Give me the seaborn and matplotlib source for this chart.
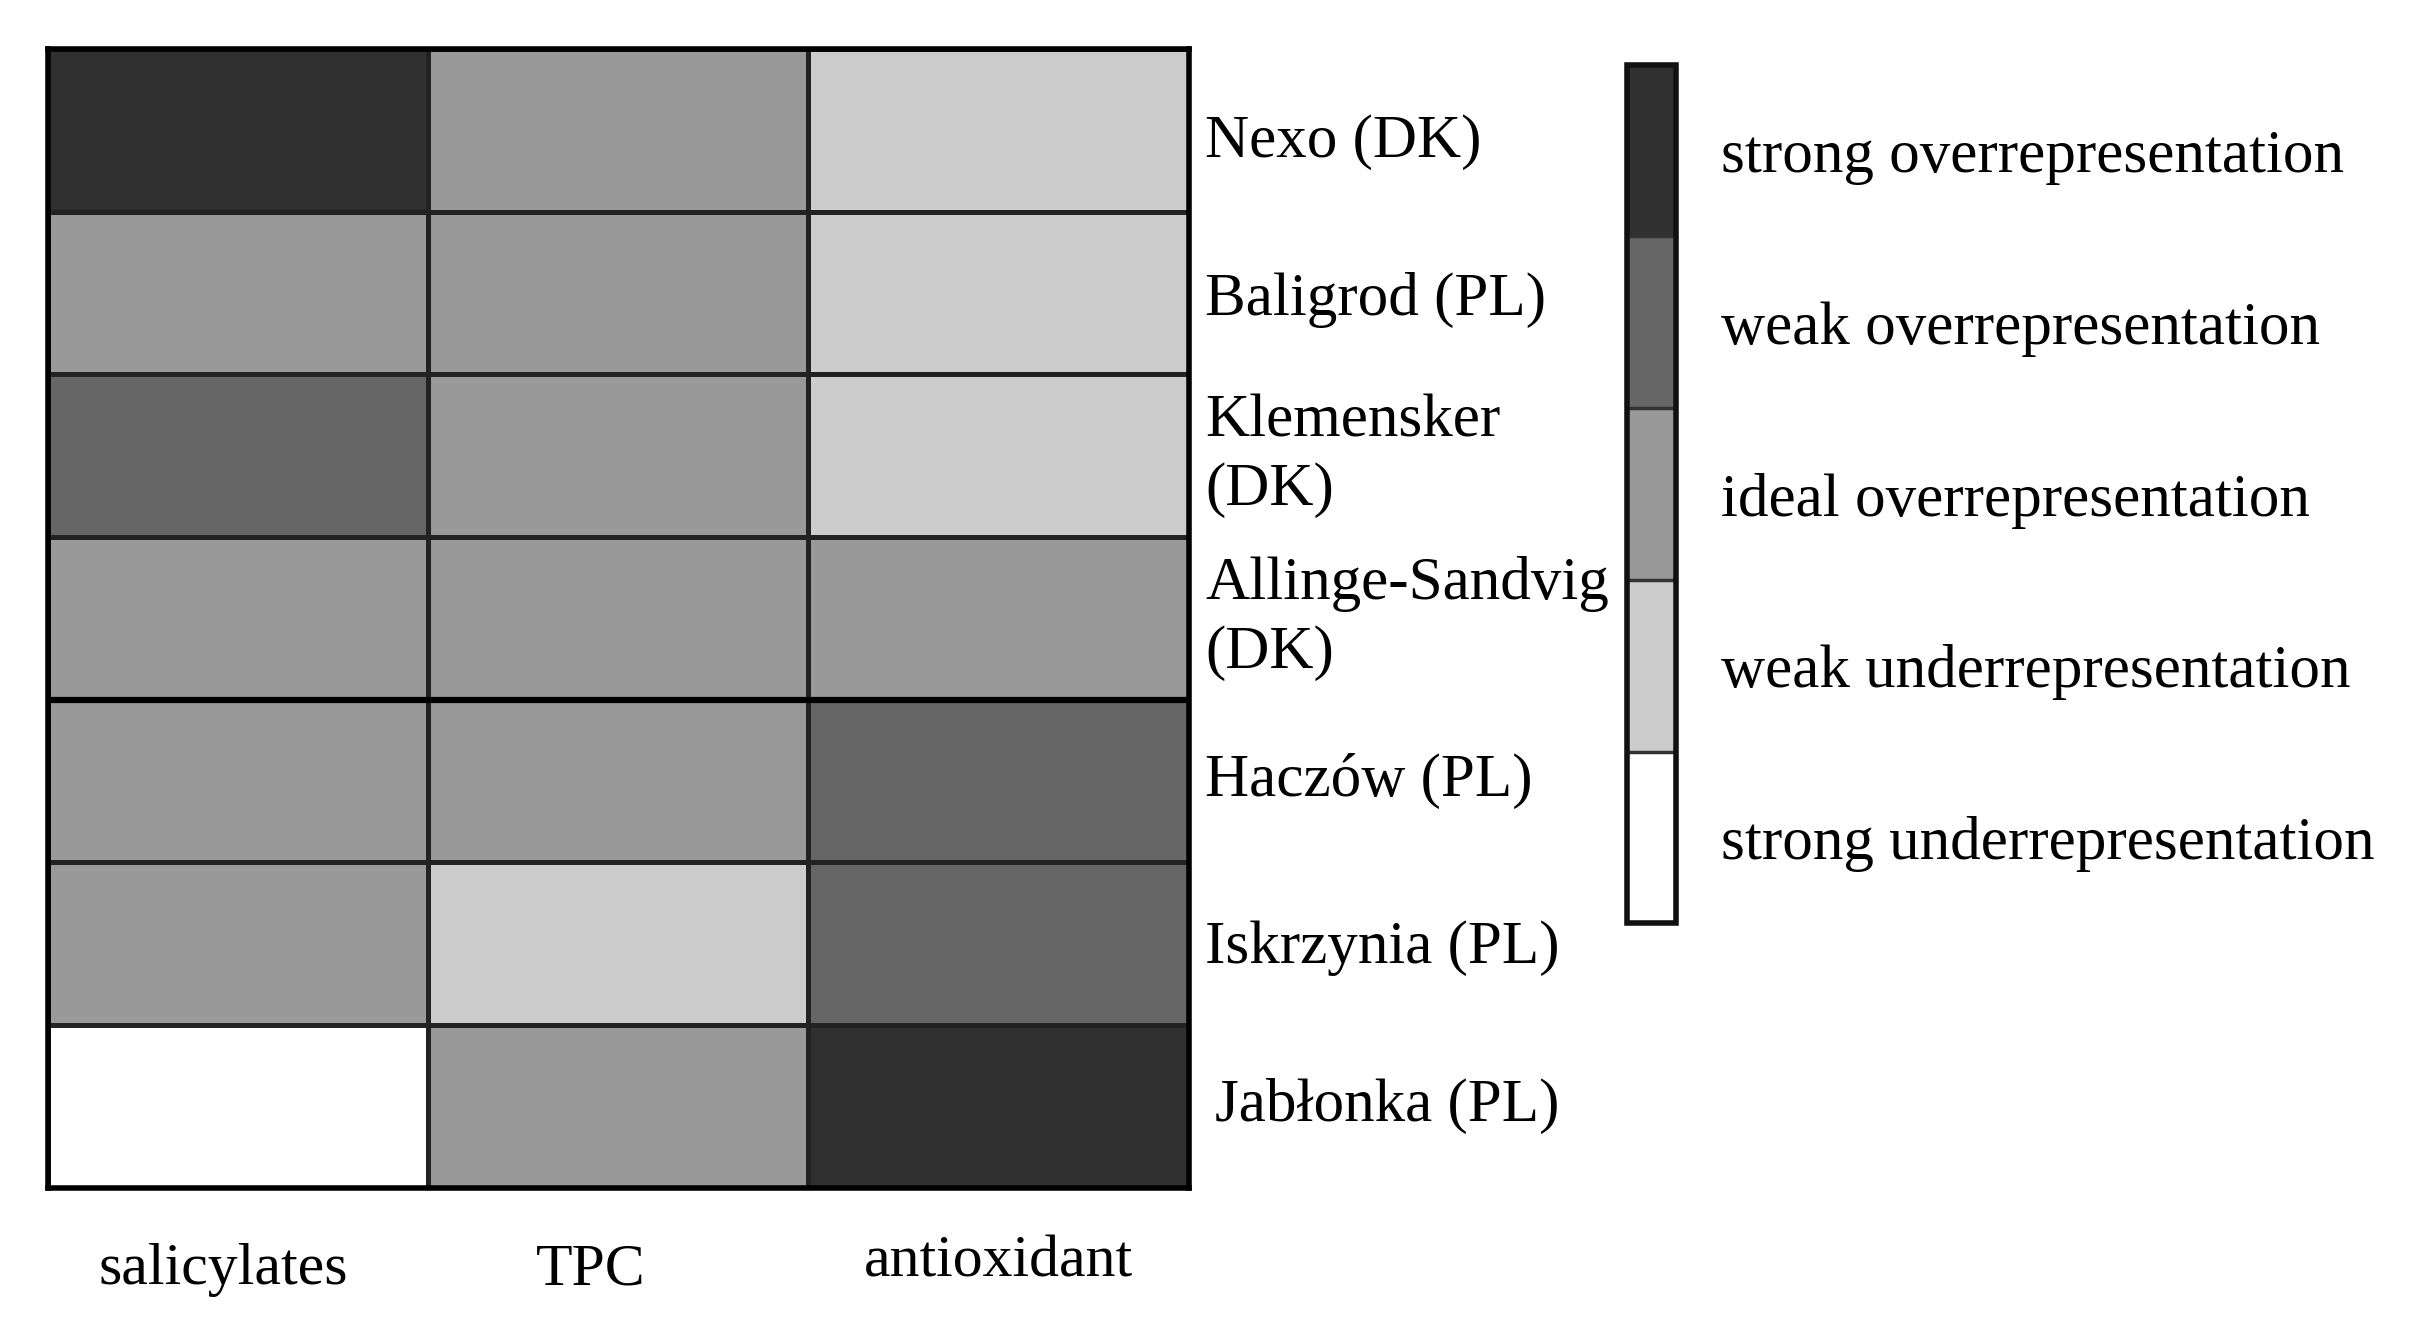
import numpy as np
import pandas as pd
import matplotlib
matplotlib.use("Agg")
import matplotlib.pyplot as plt
import matplotlib.transforms as mtransforms
from matplotlib.colors import ListedColormap
import seaborn as sns

# data: 0 = strong under ... 4 = strong over
sites = ["Nexo (DK)", "Baligrod (PL)", "Klemensker\n(DK)", "Allinge-Sandvig\n(DK)",
         "Haczów (PL)", "Iskrzynia (PL)", "Jabłonka (PL)"]
measures = ["salicylates", "TPC", "antioxidant"]
salicylates = [4, 2, 3, 2, 2, 2, 0]
tpc = [2, 2, 2, 2, 2, 1, 2]
antioxidant = [1, 1, 1, 2, 3, 3, 4]
levels = ["strong underrepresentation", "weak underrepresentation", "ideal overrepresentation",
          "weak overrepresentation", "strong overrepresentation"]
greys = ["#ffffff", "#cccccc", "#999999", "#666666", "#303030"]

df = pd.DataFrame({"salicylates": salicylates, "TPC": tpc, "antioxidant": antioxidant}, index=sites)

sns.set_style("white")
plt.rcParams["font.family"] = ["Liberation Serif", "DejaVu Serif"]
plt.rcParams["text.color"] = "black"
plt.rcParams["xtick.color"] = "black"
plt.rcParams["ytick.color"] = "black"

fig = plt.figure(figsize=(24.11, 13.21), dpi=100)
ax = fig.add_axes([0.020, 0.101, 0.473, 0.862])
cax = fig.add_axes([0.675, 0.301, 0.0203, 0.650])

cmap = ListedColormap(greys)
sns.heatmap(df, ax=ax, cbar_ax=cax, cmap=cmap, vmin=-0.5, vmax=4.5,
            linewidths=2.5, linecolor="#222222", cbar_kws={"drawedges": True})

# border and the heavier divider between DK and PL groups
for s in ax.spines.values():
    s.set_visible(True)
    s.set_linewidth(4)
    s.set_color("black")
ax.axhline(4, color="black", lw=4.5)

ax.yaxis.tick_right()
ax.set_yticklabels(sites, rotation=0, ha="left", va="center", fontsize=44, linespacing=1.3)
ax.set_xticklabels(measures, rotation=0, fontsize=43)
ax.tick_params(axis="y", length=0, pad=12)
ax.tick_params(axis="x", length=0, pad=40)
ax.set_xlabel("")
ax.set_ylabel("")

# small nudges of the labels as in the original
nudges = [(-0.15, 0.0), (-0.28, 0.0), (0.0, 0.08)]
for lab, (dx, dy) in zip(ax.get_xticklabels(), nudges):
    lab.set_transform(lab.get_transform() + mtransforms.ScaledTranslation(dx, dy, fig.dpi_scale_trans))
ynudges = [(0, -0.12), (0, -0.07), (0, 0), (0, 0), (0, 0), (0, -0.05), (0.1, 0)]
for lab, (dx, dy) in zip(ax.get_yticklabels(), ynudges):
    lab.set_transform(lab.get_transform() + mtransforms.ScaledTranslation(dx, dy, fig.dpi_scale_trans))

cbar = ax.collections[0].colorbar
cbar.set_ticks([0, 1, 2, 3, 4])
cbar.set_ticklabels(levels)
cbar.ax.tick_params(length=0, pad=32, labelsize=44)
cbar.outline.set_linewidth(4)
cbar.outline.set_edgecolor("#111111")
cbar.dividers.set_color("#333333")
cbar.dividers.set_linewidth(2.5)

fig.savefig("out.png", dpi=100)
